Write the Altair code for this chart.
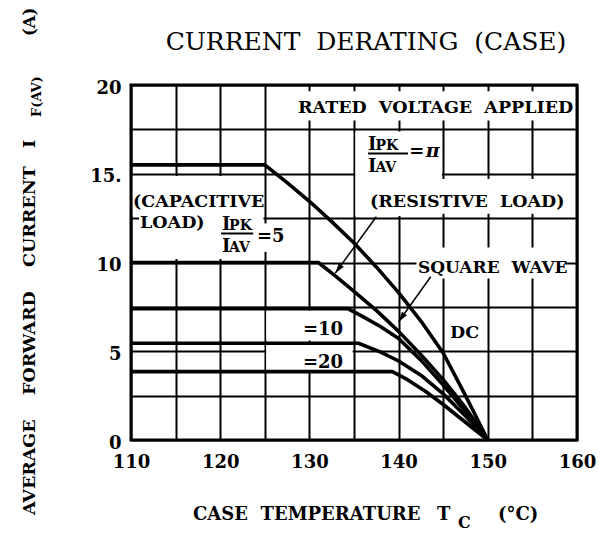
import altair as alt
import pandas as pd

# ---------------- data ----------------
# derating curves: case temperature (deg C) vs average forward current (A)
dc_t = [110, 125, 127.5, 130, 132.5, 135, 137.5, 140, 142.5, 145, 147.5, 150]
dc_i = [15.5, 15.5, 14.5, 13.45, 12.3, 11.1, 9.75, 8.3, 6.7, 4.9, 2.5, 0]

pi_t = [110, 131, 133, 135, 137.5, 140, 142.5, 145, 147.5, 150]
pi_i = [10, 10, 9.2, 8.37, 7.3, 6.12, 4.8, 3.4, 1.82, 0]

r10_t = [110, 134.3, 136, 138, 140, 142.5, 145, 147.5, 150]
r10_i = [7.4, 7.4, 6.95, 6.38, 5.72, 4.5, 3.1, 1.6, 0]

r20_t = [110, 135.5, 138, 140, 142.5, 145, 147.5, 150]
r20_i = [5.45, 5.45, 4.95, 4.45, 3.65, 2.6, 1.35, 0]

r30_t = [110, 139.3, 141, 143, 145, 147.5, 150]
r30_i = [3.85, 3.85, 3.4, 2.75, 2.0, 1.0, 0]

series_names = ["DC", "pi", "10", "20", "low"]
series_t = [dc_t, pi_t, r10_t, r20_t, r30_t]
series_i = [dc_i, pi_i, r10_i, r20_i, r30_i]

x_ticks = [110, 115, 120, 125, 130, 135, 140, 145, 150, 155, 160]
y_ticks = [0, 2.5, 5, 7.5, 10, 12.5, 15, 17.5, 20]

# annotation texts (left edge T, baseline I)
NB = "\u00a0"
ann_text = ["RATED" + NB * 2 + "VOLTAGE" + NB * 2 + "APPLIED",
            "I", "PK", "I", "AV", "=",
            "(RESISTIVE" + NB * 2 + "LOAD)",
            "(CAPACITIVE", "LOAD)",
            "I", "PK", "I", "AV", "=5",
            "SQUARE" + NB * 2 + "WAVE",
            "DC", "=10", "=20"]
ann_t = [128.72, 136.57, 137.4, 136.57, 137.4, 141.2, 136.79,
         110.22, 111.01, 120.2, 121.0, 120.2, 121.0, 124.13,
         142.17, 145.76, 129.28, 129.28]
ann_i = [18.42, 16.34, 16.34, 15.10, 15.10, 15.94, 13.13,
         13.13, 11.94, 11.83, 11.83, 10.59, 10.59, 11.15,
         9.41, 5.75, 5.92, 4.06]
ann_size = [17.5, 18, 14, 18, 14, 18, 17.5,
            17.5, 17.5, 18, 14, 18, 14, 18,
            17, 17.5, 18, 18]

# italic pi symbol
pi_sym_t = [143.05]
pi_sym_i = [15.94]

# fraction bars
bar_t1 = [136.57, 120.1]
bar_t2 = [141.05, 123.7]
bar_i = [16.14, 11.63]

# arrows (start -> tip)
arr_t1 = [137.5, 143.6]
arr_i1 = [12.58, 9.2]
arr_t2 = [132.9, 140.0]
arr_i2 = [9.4, 6.66]
arr_ang = [216.5, 215.2]

# white label backgrounds
box_t1 = [128.2, 135.15, 136.3, 110.2, 110.9, 124.85, 142.0, 125.15, 125.15]
box_t2 = [158.8, 144.85, 158.6, 124.85, 124.85, 127.4, 158.6, 134.85, 134.85]
box_i1 = [18.0, 12.62, 12.75, 12.62, 10.2, 10.6, 9.1, 5.6, 3.95]
box_i2 = [19.65, 17.38, 14.7, 14.88, 12.62, 12.2, 10.85, 7.3, 5.35]

# ---------------- tables ----------------
rows = []
for name, ts, vs in zip(series_names, series_t, series_i):
    for k, (t, v) in enumerate(zip(ts, vs)):
        rows.append({"series": name, "T": t, "I": v, "ord": k})
curves = pd.DataFrame(rows)
ann = pd.DataFrame({"T": ann_t, "I": ann_i, "text": ann_text, "size": ann_size})
pi_sym = pd.DataFrame({"T": pi_sym_t, "I": pi_sym_i, "text": ["\u03c0"]})
bars = pd.DataFrame({"T1": bar_t1, "T2": bar_t2, "I": bar_i})
arrows = pd.DataFrame({"T1": arr_t1, "I1": arr_i1, "T2": arr_t2, "I2": arr_i2, "ang": arr_ang})
boxes = pd.DataFrame({"T1": box_t1, "T2": box_t2, "I1": box_i1, "I2": box_i2})
one = pd.DataFrame({"a": [0]})

FONT = "DejaVu Serif"

xs = alt.Scale(domain=[110, 160], nice=False, zero=False)
ys = alt.Scale(domain=[0, 20], nice=False)

x_axis = alt.Axis(values=x_ticks, grid=True, gridColor="black", gridWidth=2, gridOpacity=1,
                  ticks=False, domain=False, title=None,
                  labelExpr="datum.value % 10 == 0 ? '' + datum.value : ''",
                  labelFont=FONT, labelFontWeight="bold", labelFontSize=18, labelColor="black",
                  labelPadding=13, labelBaseline="top", labelFlush=False, labelOverlap=False)
y_axis = alt.Axis(values=y_ticks, grid=True, gridColor="black", gridWidth=2, gridOpacity=1,
                  ticks=False, domain=False, title=None,
                  labelExpr="datum.value == 15 ? '15.' : (datum.value % 5 == 0 ? '' + datum.value : '')",
                  labelFont=FONT, labelFontWeight="bold", labelFontSize=18, labelColor="black",
                  labelPadding=10, labelFlush=False, labelOverlap=False, labelOffset=3)

box_layer = alt.Chart(boxes).mark_rect(fill="white", strokeWidth=0).encode(
    x=alt.X("T1:Q", scale=xs, axis=x_axis), x2="T2:Q",
    y=alt.Y("I1:Q", scale=ys, axis=y_axis), y2="I2:Q")

curve_layer = alt.Chart(curves).mark_line(color="black", strokeWidth=3.6, strokeJoin="round").encode(
    x=alt.X("T:Q", scale=xs), y=alt.Y("I:Q", scale=ys), detail="series:N", order="ord:Q")

bar_layer = alt.Chart(bars).mark_rule(color="black", strokeWidth=2).encode(
    x=alt.X("T1:Q", scale=xs), x2="T2:Q", y=alt.Y("I:Q", scale=ys))

arrow_layer = alt.Chart(arrows).mark_rule(color="black", strokeWidth=1.5).encode(
    x=alt.X("T1:Q", scale=xs), x2="T2:Q", y=alt.Y("I1:Q", scale=ys), y2="I2:Q")

head_layer = alt.Chart(arrows).mark_point(shape="M0,0L0.3,1L-0.3,1Z", filled=True, color="black",
                                          opacity=1, size=420).encode(
    x=alt.X("T2:Q", scale=xs), y=alt.Y("I2:Q", scale=ys), angle=alt.Angle("ang:Q", scale=None))

ann_layer = alt.Chart(ann).mark_text(align="left", baseline="alphabetic", font=FONT,
                                     fontWeight="bold", color="black").encode(
    x=alt.X("T:Q", scale=xs), y=alt.Y("I:Q", scale=ys), text="text:N",
    size=alt.Size("size:Q", scale=None, legend=None))

pi_layer = alt.Chart(pi_sym).mark_text(align="left", baseline="alphabetic", font=FONT,
                                       fontStyle="italic", fontWeight="bold", fontSize=19,
                                       color="black").encode(
    x=alt.X("T:Q", scale=xs), y=alt.Y("I:Q", scale=ys), text="text:N")


def label(txt, px, py, size, weight="bold", align="left", angle=0, baseline="alphabetic"):
    return alt.Chart(one).mark_text(text=txt, align=align, baseline=baseline, font=FONT,
                                    fontWeight=weight, fontSize=size, color="black",
                                    angle=angle).encode(x=alt.value(px), y=alt.value(py))


title_layers = [
    label("CURRENT" + NB * 2 + "DERATING" + NB * 2 + "(CASE)", 235, -35, 25, weight="normal", align="center"),
    label("CASE" + NB * 2 + "TEMPERATURE", 62, 435, 18),
    label("T", 306, 435, 18),
    label("C", 327, 443, 16),
    label("(\u00b0C)", 367, 435, 18),
    label("AVERAGE" + NB * 4 + "FORWARD" + NB * 4 + "CURRENT" + NB * 3 + "I", -101, 430, 17.5,
          angle=270, baseline="middle"),
    label("F(AV)", -94, 32, 13, angle=270, baseline="middle"),
    label("(A)", -101, -49, 16.5, angle=270, baseline="middle"),
]

chart = alt.layer(box_layer, curve_layer, bar_layer, arrow_layer, head_layer, ann_layer, pi_layer,
                  *title_layers).properties(
    width=446, height=355,
    padding={"left": 123, "top": 77, "right": 28, "bottom": 93},
    autosize=alt.AutoSizeParams(type="none"),
).configure_view(stroke="black", strokeWidth=3)

chart.save("out.html", embed_options={"renderer": "svg", "actions": False})
